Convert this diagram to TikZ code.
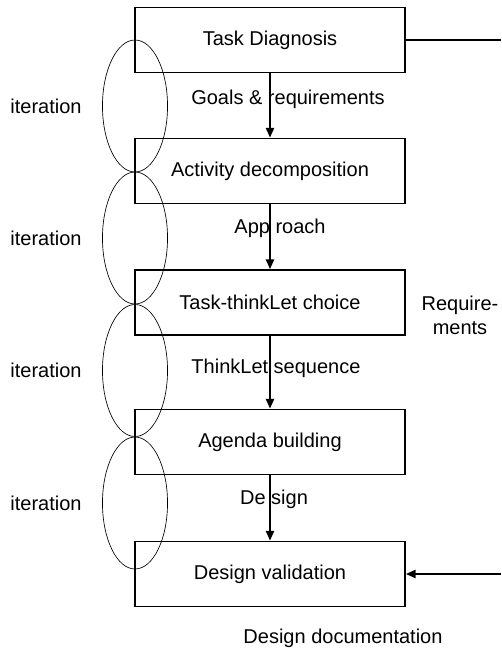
\documentclass[tikz,border=0pt]{standalone}
\usepackage{fontspec}
\setmainfont{Liberation Sans}
\usepackage{tikz}
\usetikzlibrary{arrows.meta}

\begin{document}
\begin{tikzpicture}
  [x=0.75pt,y=-0.75pt,
   stage/.style={draw,line width=1.1pt,minimum width=202.5pt,minimum height=48.75pt,
     inner sep=0pt,font=\fontsize{15}{18}\selectfont},
   lbl/.style={inner sep=0pt,align=center,font=\fontsize{15}{18}\selectfont},
   flow/.style={line width=2pt,-{Triangle[length=7.5pt,width=6pt]}}]
  \useasboundingbox (0,0) rectangle (501,651);
  \node[stage] (td) at (270,40) {Task Diagnosis};
  \node[stage] (ad) at (270,171) {Activity decomposition};
  \node[stage] (tc) at (270,302.5) {Task-thinkLet choice};
  \node[stage] (ab) at (270,442) {Agenda building};
  \node[stage] (dv) at (270,574) {Design validation};
  \node[lbl] (gr) at (288,99) {Goals \& requirements};
  \node[lbl] (ap) at (280,228) {App roach};
  \node[lbl] (ts) at (276,368) {ThinkLet sequence};
  \node[lbl] (de) at (274,499) {De sign};
  \node[lbl] (rq) at (460,315) {Require-\\ments};
  \node[lbl] (dd) at (343,638) {Design documentation};
  \coordinate (out) at (501,40);
  \coordinate (in) at (501,574);
  % iteration loops on the left
  \foreach \y [count=\i] in {106,238,370.5,503}
  {
   \draw[line width=0.5pt] (135,\y) ellipse [x radius=24.4pt, y radius=49.5pt];
   \node[lbl] (it\i) at (46,\y) {iteration};
  }
  \foreach \from/\to in {td/ad,ad/tc,tc/ab,ab/dv}
   \draw[flow] (\from) -- (\to);
  \draw[line width=2.2pt] (td.east) -- (out);
  \draw[flow] (in) -- (dv.east);

\end{tikzpicture}
\end{document}
